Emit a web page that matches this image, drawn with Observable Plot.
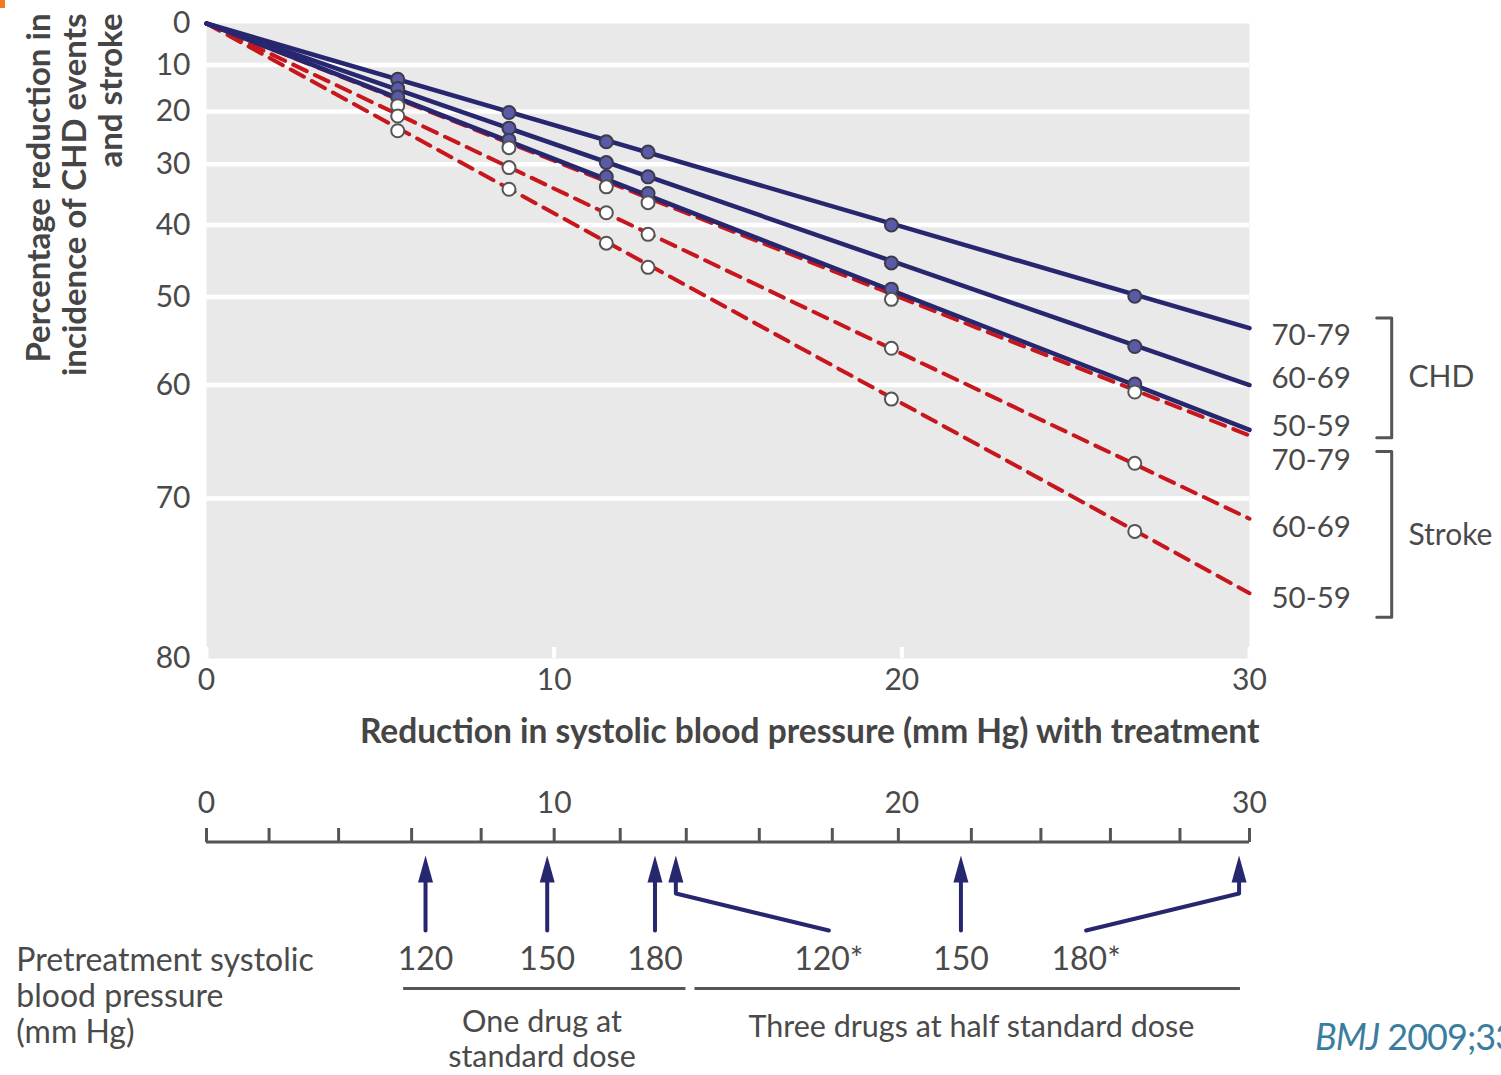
<!DOCTYPE html>
<html><head><meta charset="utf-8">
<script src="https://cdn.jsdelivr.net/npm/d3@7"></script>
<script src="https://cdn.jsdelivr.net/npm/@observablehq/plot@0.6"></script>
<style>
body{margin:0;background:#fff;overflow:hidden}
#wrap{position:relative;width:1501px;height:1075px;overflow:hidden;font-family:Lato,sans-serif;background:#fff}
#top,#bottom{position:absolute;left:0}
#top{top:0} #bottom{top:770px}
#cap{position:absolute;left:1315px;top:1014px;font-size:36px;color:#3b7d9e;white-space:nowrap;font-family:Lato,sans-serif;letter-spacing:-1px}
#mark{position:absolute;left:0;top:0;width:5px;height:8px;background:#f47a20}
</style></head><body>
<div id="wrap"><div id="mark"></div><div id="top"></div><div id="bottom"></div><div id="cap"><i>BMJ</i> 2009;338:b1665</div></div>
<script>
// ---------- data ----------
const ageGroups = ["70-79", "60-69", "50-59"];
// reduction in systolic BP (mm Hg) at the plotted points
const dotX = [5.5, 8.7, 11.5, 12.7, 19.7, 26.7];
// % reduction in CHD events
const chd7079 = [13.2, 20.2, 25.9, 27.8, 40.0, 49.9];
const chd6069 = [15.2, 23.3, 29.7, 32.2, 45.5, 55.9];
const chd5059 = [17.0, 25.6, 32.2, 35.0, 49.0, 59.9];
// % reduction in stroke
const stroke7079 = [18.8, 27.0, 33.9, 36.5, 50.3, 60.7];
const stroke6069 = [20.9, 30.6, 38.1, 41.4, 56.1, 67.2];
const stroke5059 = [23.8, 34.3, 42.7, 46.1, 61.4, 72.4];
// fitted lines: from 0 mm Hg (0%) to 30 mm Hg
const lineX = [0, 30];
const chdLineEnd = [53.8, 60.0, 64.3];
const strokeLineEnd = [64.8, 71.5, 76.4];
// axes
const yTicks = [0, 10, 20, 30, 40, 50, 60, 70, 80];
const xTicks = [0, 10, 20, 30];
const lowerTicks = [0, 1.8, 3.8, 5.9, 7.9, 10, 11.9, 13.8, 15.9, 18, 19.9, 22, 24, 26, 28, 30];
// pretreatment systolic BP arrows
const arrowX = [6.3, 9.8, 12.9, 13.5, 21.7, 29.7];
const bpLabels = ["120", "150", "180", "120*", "150", "180*"];
const bpLabelX = [6.3, 9.8, 12.9, 17.9, 21.7, 25.3];
const regimens = ["One drug at\nstandard dose", "Three drugs at half standard dose"];
const regimenSpan = [[5.67, 13.79], [14.05, 29.74]];
const regimenLabelX = [9.65, 22.0];

// ---------- styles ----------
const NAVY = "#27276f", RED = "#c8161d", TXT = "#4a4a4a", AXIS = "#555";
const font = "Lato, sans-serif";

// ---------- build tables ----------
const chdVals = [chd7079, chd6069, chd5059];
const strokeVals = [stroke7079, stroke6069, stroke5059];
const lines = [];
const dots = [];
ageGroups.forEach((age, i) => {
  lineX.forEach((x, j) => {
    lines.push({outcome: "CHD", age, x, p: j === 0 ? 0 : chdLineEnd[i]});
    lines.push({outcome: "Stroke", age, x, p: j === 0 ? 0 : strokeLineEnd[i]});
  });
  dotX.forEach((x, j) => {
    dots.push({outcome: "CHD", age, x, p: chdVals[i][j]});
    dots.push({outcome: "Stroke", age, x, p: strokeVals[i][j]});
  });
});
const rr = d => 100 - d.p; // plotted on a log relative-risk scale

// right-hand annotation positions (y as % reduction)
const sideLabels = [
  {t: "70-79", p: 54.6}, {t: "60-69", p: 59.3}, {t: "50-59", p: 64.0},
  {t: "70-79", p: 67.0}, {t: "60-69", p: 72.1}, {t: "50-59", p: 76.7}
];
const groupLabels = [{t: "CHD", p: 59.2}, {t: "Stroke", p: 72.7}];
const brackets = [[52.6, 65.0], [66.2, 77.8]];
const bx = 34.09, bx0 = 33.66;
const bracketPaths = brackets.map(([a, b], k) => [
  {k, x: bx0, p: a}, {k, x: bx, p: a}, {k, x: bx, p: b}, {k, x: bx0, p: b}
]).flat();

const W = 1501, ML = 206, MR = 252;

const topPlot = Plot.plot({
  width: W, height: 770,
  marginLeft: ML, marginRight: MR, marginTop: 23, marginBottom: 112,
  style: {fontFamily: font, fontSize: "29px", color: TXT, background: "transparent", overflow: "visible"},
  x: {domain: [0, 30], label: null},
  y: {type: "log", domain: [20, 100], label: null},
  marks: [
    Plot.frame({fill: "#e9e9e9", stroke: "none"}),
    Plot.ruleY(yTicks.filter(d => d > 0 && d < 80), {y: d => 100 - d, stroke: "white", strokeWidth: 4.5}),
    Plot.tickX(xTicks, {x: d => d, stroke: "white", strokeWidth: 4, insetTop: 624}),
    Plot.axisY({ticks: yTicks.map(d => 100 - d), tickFormat: d => Math.round(100 - d), tickSize: 0, tickPadding: 16, fontSize: 30, label: null}),
    Plot.axisX({ticks: xTicks, tickSize: 0, tickPadding: 10, fontSize: 30, label: null}),
    Plot.line(lines.filter(d => d.outcome === "Stroke"), {x: "x", y: rr, z: "age", stroke: RED, strokeWidth: 4, strokeDasharray: "15,9"}),
    Plot.line(lines.filter(d => d.outcome === "CHD"), {x: "x", y: rr, z: "age", stroke: NAVY, strokeWidth: 4.5}),
    Plot.dot(dots.filter(d => d.outcome === "CHD"), {x: "x", y: rr, r: 6.5, fill: "#5a5aa6", stroke: "#3b3b4e", strokeWidth: 2}),
    Plot.dot(dots.filter(d => d.outcome === "Stroke"), {x: "x", y: rr, r: 6.5, fill: "white", stroke: "#555", strokeWidth: 2}),
    Plot.text(sideLabels, {text: "t", y: rr, frameAnchor: "right", dx: 22, textAnchor: "start", fontSize: 29.5}),
    Plot.text(groupLabels, {text: "t", y: rr, frameAnchor: "right", dx: 159, textAnchor: "start", fontSize: 30}),
    Plot.line(bracketPaths, {x: "x", y: rr, z: "k", stroke: AXIS, strokeWidth: 3}),
    Plot.text(["Reduction in systolic blood pressure (mm Hg) with treatment"], {frameAnchor: "bottom-right", dx: 10, dy: 84, textAnchor: "end", fontWeight: "bold", fontSize: 33.5, fill: "#454545"}),
    Plot.text(["Percentage reduction in\nincidence of CHD events\nand stroke"], {frameAnchor: "top-left", dx: -132, dy: -10, rotate: -90, textAnchor: "end", lineAnchor: "middle", lineHeight: 1.1, fontWeight: "bold", fontSize: 33, fill: "#454545"})
  ]
});
document.getElementById("top").appendChild(topPlot);

const bottomPlot = Plot.plot({
  width: W, height: 305,
  marginLeft: ML, marginRight: MR, marginTop: 0, marginBottom: 0,
  style: {fontFamily: font, fontSize: "32px", color: TXT, background: "transparent", overflow: "visible"},
  x: {domain: [0, 30], axis: null},
  y: {domain: [0, 305], range: [0, 305], axis: null},
  marks: [
    Plot.ruleY([71.5], {x1: 0, x2: 30, stroke: AXIS, strokeWidth: 3}),
    Plot.ruleX(lowerTicks, {x: d => d, y1: 58, y2: 72, stroke: AXIS, strokeWidth: 3}),
    Plot.text(xTicks, {x: d => d, y: 33, text: d => d, fontSize: 30}),
    Plot.line(arrowX.flatMap((x, i) => [
      {i, x: bpLabelX[i], y: 160}, {i, x, y: bpLabelX[i] === x ? 140 : 123}, {i, x, y: 108}
    ]), {x: "x", y: "y", z: "i", stroke: NAVY, strokeWidth: 4}),
    Plot.vector(arrowX, {x: d => d, y: 112, length: 27, rotate: 0, anchor: "start", shape: "spike", r: 7.5, fill: NAVY, stroke: "none"}),
    Plot.text(bpLabels, {x: (d, i) => bpLabelX[i], y: 189, text: d => d, fontSize: 32}),
    Plot.ruleY(regimenSpan, {x1: d => d[0], x2: d => d[1], y: 218, stroke: AXIS, strokeWidth: 3}),
    Plot.text(regimens, {x: (d, i) => regimenLabelX[i], y: (d, i) => i === 0 ? 268 : 255, text: d => d, lineHeight: 1.15, fontSize: 30.5}),
    Plot.text(["Pretreatment systolic\nblood pressure\n(mm Hg)"], {x: -5.47, y: 225, textAnchor: "start", lineHeight: 1.12, fontSize: 32})
  ]
});
document.getElementById("bottom").appendChild(bottomPlot);
</script>
</body></html>
